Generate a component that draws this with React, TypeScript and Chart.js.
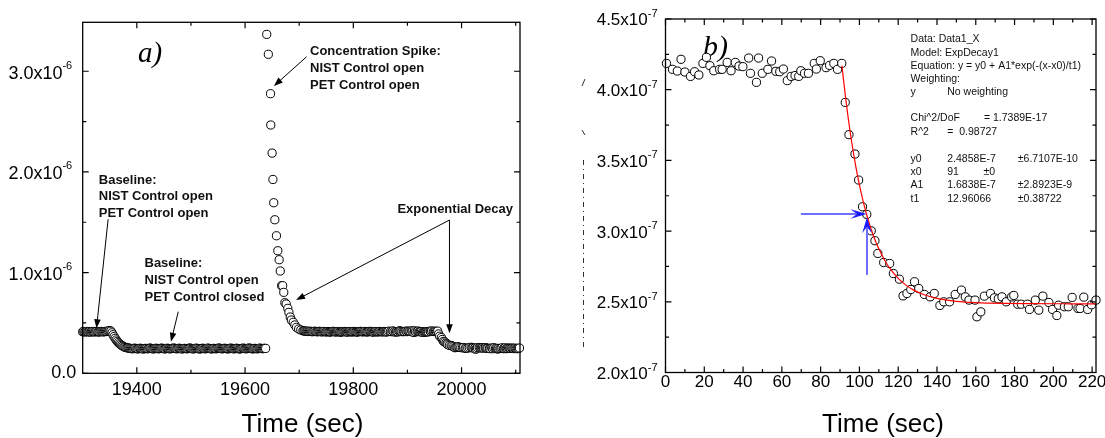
import React, { useEffect, useRef } from "react";
import { Chart, registerables } from "chart.js";
Chart.register(...registerables);

const SANS = '"Liberation Sans", Arial, sans-serif';
const SERIF = '"Liberation Serif", "Times New Roman", serif';

// ---------------- Panel a (values in units of 1e-6) ----------------
const aTimeStep = 2;
const aOpenStart = 19300;
const aBaselineOpen = [0.412, 0.415, 0.41, 0.413, 0.416, 0.411, 0.414, 0.409, 0.412, 0.416, 0.413, 0.41, 0.414, 0.417, 0.412, 0.409, 0.413, 0.416, 0.414, 0.411, 0.413, 0.417, 0.415, 0.418, 0.421, 0.425];
const aDropStart = 19352;
const aDrop = [0.418, 0.402, 0.383, 0.364, 0.347, 0.331, 0.317, 0.305, 0.294, 0.285, 0.277, 0.27, 0.264, 0.259, 0.256, 0.253, 0.251, 0.249];
const aClosedStart = 19388;
const aBaselineClosed = [
  0.248, 0.245, 0.243, 0.247, 0.25, 0.246, 0.244, 0.242, 0.246, 0.249,
  0.247, 0.244, 0.241, 0.245, 0.248, 0.246, 0.243, 0.247, 0.251, 0.248,
  0.245, 0.242, 0.244, 0.247, 0.249, 0.246, 0.243, 0.245, 0.248, 0.25,
  0.247, 0.244, 0.242, 0.246, 0.249, 0.247, 0.244, 0.243, 0.246, 0.248,
  0.251, 0.248, 0.245, 0.243, 0.246, 0.249, 0.247, 0.244, 0.242, 0.245,
  0.248, 0.246, 0.243, 0.245, 0.249, 0.251, 0.248, 0.245, 0.242, 0.244,
  0.247, 0.25, 0.247, 0.244, 0.241, 0.244, 0.247, 0.249, 0.246, 0.243,
  0.245, 0.248, 0.25, 0.247, 0.244, 0.242, 0.245, 0.248, 0.246, 0.243,
  0.246, 0.249, 0.251, 0.248, 0.245, 0.243, 0.246, 0.249, 0.247, 0.244,
  0.242, 0.245, 0.248, 0.25, 0.247, 0.244, 0.243, 0.246, 0.249, 0.247,
  0.244, 0.241, 0.244, 0.247, 0.25, 0.248, 0.245, 0.243, 0.246, 0.249,
  0.251, 0.248, 0.245, 0.242, 0.245, 0.248, 0.246, 0.243, 0.245, 0.248,
  0.25, 0.247, 0.244, 0.246, 0.249, 0.247,
];
const aSpikeTime = [19640, 19643, 19647, 19647.5, 19650, 19651.5, 19653, 19655, 19658, 19660.5, 19663, 19665, 19667.5, 19669.5, 19671.5, 19673.5, 19676, 19679, 19681, 19683.5, 19685.5, 19689, 19692, 19695, 19699, 19703, 19707];
const aSpikeValue = [3.366, 3.168, 2.777, 2.466, 2.187, 1.925, 1.694, 1.525, 1.366, 1.217, 1.128, 1.016, 0.87, 0.87, 0.804, 0.701, 0.688, 0.645, 0.605, 0.559, 0.529, 0.506, 0.48, 0.456, 0.44, 0.43, 0.423];
const aPlateauStart = 19709;
const aPlateau = [
  0.42, 0.418, 0.417, 0.419, 0.415, 0.416, 0.418, 0.414, 0.413, 0.416,
  0.418, 0.415, 0.412, 0.414, 0.417, 0.415, 0.411, 0.413, 0.416, 0.414,
  0.41, 0.413, 0.415, 0.412, 0.409, 0.412, 0.415, 0.417, 0.413, 0.41,
  0.412, 0.415, 0.413, 0.41, 0.408, 0.411, 0.414, 0.416, 0.413, 0.411,
  0.409, 0.412, 0.415, 0.413, 0.41, 0.412, 0.416, 0.414, 0.411, 0.409,
  0.412, 0.414, 0.417, 0.414, 0.411, 0.413, 0.416, 0.413, 0.41, 0.412,
  0.415, 0.417, 0.414, 0.411, 0.409, 0.412, 0.415, 0.413, 0.41, 0.413,
  0.416, 0.414, 0.411, 0.413, 0.415, 0.412, 0.41, 0.413,
];
const aDecayOffset = 19865; // panel b's time zero on panel a's time axis
const aTailStart = 20089;
const aTail = [0.249, 0.246, 0.251, 0.248, 0.245, 0.25, 0.247, 0.244, 0.248, 0.251];

const aXRange = [19300, 20108];
const aYRange = [0, 3.486];
const aXMajor = [19400, 19600, 19800, 20000];
const aXMinor = [19500, 19700, 19900, 20100];
const aYMajor = [0, 1, 2, 3];
const aYMinor = [0.5, 1.5, 2.5];
const aYExp = "-6";

// ---------------- Panel b (values in units of 1e-7) ----------------
const bTime = [
  0.5, 3.6, 6.1, 8, 10, 12.9, 15, 17.2, 19.3, 21.1, 22.9, 24.9, 27.9, 29.2, 31.8, 33.8, 36, 37.9, 39.9, 42.9,
  43.8, 46.9, 48, 49.9, 52.8, 54.7, 56.9, 58.9, 60.8, 62.8, 64.8, 66.8, 68.7, 69.8, 71.7, 73.7, 76.7, 77.8, 79.8, 82.8,
  84.6, 86.8, 88.7, 90.9, 92.7, 94.6, 97.7, 99.6, 101.6, 103.8, 106.1, 108, 109.5, 112.5, 115.6, 117.5, 120.6, 122.5, 124.5, 126.5,
  128.4, 130.6, 133.5, 136.5, 138.6, 141.5, 143.5, 146.5, 149.4, 152.6, 154.6, 156.5, 159.6, 160.6, 162.6, 164.4, 167.6, 169.6, 171.6, 173.5,
  175.7, 178.5, 179.6, 181.6, 183.5, 186.6, 187.7, 190.7, 192.5, 194.6, 197.7, 199.6, 201.8, 202.7, 205.7, 207.7, 209.7, 212.7, 213.8, 215.7,
  217.7, 219.7, 222,
];
const bValue = [
  4.186, 4.144, 4.132, 4.215, 4.125, 4.094, 4.127, 4.104, 4.186, 4.229, 4.17, 4.134, 4.144, 4.144, 4.193, 4.134, 4.193, 4.167, 4.163, 4.224,
  4.116, 4.052, 4.224, 4.116, 4.144, 4.203, 4.13, 4.127, 4.146, 4.064, 4.094, 4.1, 4.094, 4.134, 4.116, 4.116, 4.186, 4.146, 4.205, 4.156,
  4.172, 4.186, 4.144, 4.186, 3.91, 3.682, 3.545, 3.361, 3.172, 3.118, 3.002, 2.932, 2.842, 2.778, 2.771, 2.7, 2.66, 2.542, 2.559, 2.587,
  2.642, 2.594, 2.552, 2.535, 2.559, 2.474, 2.5, 2.5, 2.552, 2.583, 2.535, 2.512, 2.512, 2.394, 2.429, 2.54, 2.559, 2.528, 2.521, 2.535,
  2.5, 2.535, 2.545, 2.483, 2.483, 2.483, 2.446, 2.512, 2.441, 2.54, 2.495, 2.446, 2.403, 2.476, 2.465, 2.465, 2.531, 2.453, 2.453, 2.533,
  2.446, 2.479, 2.512,
];
const bFitTime = [91, 92, 93, 94, 95, 96, 97, 98, 100, 102, 104, 106, 108, 110, 113, 116, 120, 124, 128, 133, 140, 150, 160, 175, 190, 205, 222];
const bFitValue = [4.1696, 4.0446, 3.9288, 3.8216, 3.7225, 3.6307, 3.5456, 3.467, 3.3266, 3.2064, 3.1033, 3.015, 2.9393, 2.8745, 2.7942, 2.7305, 2.6655, 2.6178, 2.5827, 2.5517, 2.5242, 2.5035, 2.494, 2.4884, 2.4866, 2.4861, 2.4858];

const bXRange = [0, 222];
const bYRange = [2.0, 4.5];
const bXMajor = [0, 20, 40, 60, 80, 100, 120, 140, 160, 180, 200, 220];
const bXMinor = [10, 30, 50, 70, 90, 110, 130, 150, 170, 190, 210];
const bYMajor = [2.0, 2.5, 3.0, 3.5, 4.0, 4.5];
const bYMinor = [2.25, 2.75, 3.25, 3.75, 4.25];
const bYExp = "-7";

const bFitRows: { y: number; cells: { x: number; t: string }[] }[] = [
  { y: 4.356, cells: [{ x: 126.4, t: "Data: Data1_X" }] },
  { y: 4.262, cells: [{ x: 126.4, t: "Model: ExpDecay1" }] },
  { y: 4.17, cells: [{ x: 126.4, t: "Equation: y = y0 + A1*exp(-(x-x0)/t1)" }] },
  { y: 4.076, cells: [{ x: 126.4, t: "Weighting:" }] },
  { y: 3.982, cells: [{ x: 126.4, t: "y" }, { x: 145.3, t: "No weighting" }] },
  { y: 3.798, cells: [{ x: 126.4, t: "Chi^2/DoF" }, { x: 164.2, t: "= 1.7389E-17" }] },
  { y: 3.699, cells: [{ x: 126.4, t: "R^2" }, { x: 145.3, t: "=  0.98727" }] },
  { y: 3.512, cells: [{ x: 126.4, t: "y0" }, { x: 145.3, t: "2.4858E-7" }, { x: 181.7, t: "\u00b16.7107E-10" }] },
  { y: 3.418, cells: [{ x: 126.4, t: "x0" }, { x: 145.3, t: "91" }, { x: 164.0, t: "\u00b10" }] },
  { y: 3.324, cells: [{ x: 126.4, t: "A1" }, { x: 145.3, t: "1.6838E-7" }, { x: 181.7, t: "\u00b12.8923E-9" }] },
  { y: 3.229, cells: [{ x: 126.4, t: "t1" }, { x: 145.3, t: "12.96066" }, { x: 181.7, t: "\u00b10.38722" }] },
];

// annotations (positions in data coordinates)
const aNotes = [
  { x: 19329.7, y: 1.92, lines: ["Baseline:", "NIST Control open", "PET Control open"] },
  { x: 19414.2, y: 1.092, lines: ["Baseline:", "NIST Control open", "PET Control closed"] },
  { x: 19720, y: 3.194, lines: ["Concentration Spike:", "NIST Control open", "PET Control open"] },
  { x: 19881.5, y: 1.632, lines: ["Exponential Decay"] },
];
const aArrows = [
  [19347, 1.53, 19325.5, 0.447],
  [19476.6, 0.612, 19463.1, 0.314],
  [19713.7, 3.144, 19653.3, 2.853],
  [19977.7, 1.522, 19694.2, 0.728],
  [19977.7, 1.522, 19977.7, 0.397],
];
const bArrows = [
  [69.8, 3.121, 103.7, 3.121],
  [103.9, 2.69, 103.9, 3.098],
];

type Pt = { x: number; y: number };
const seq = (start: number, step: number, vals: number[]): Pt[] => vals.map((v, i) => ({ x: start + i * step, y: v }));
const zip = (xs: number[], ys: number[]): Pt[] => xs.map((x, i) => ({ x, y: ys[i] }));

function arrowHead(ctx: CanvasRenderingContext2D, x1: number, y1: number, x2: number, y2: number, len: number, half: number, notch: number) {
  const ang = Math.atan2(y2 - y1, x2 - x1);
  ctx.save();
  ctx.translate(x2, y2);
  ctx.rotate(ang);
  ctx.beginPath();
  ctx.moveTo(0, 0);
  ctx.lineTo(-len, half);
  ctx.lineTo(-len * notch, 0);
  ctx.lineTo(-len, -half);
  ctx.closePath();
  ctx.fill();
  ctx.restore();
}

type AxisOpts = {
  xMajor: number[]; xMinor: number[]; yMajor: number[]; yMinor: number[]; yExp: string;
  xFont: string; xLabelY: number; yFont: string; supFont: string; supGap: number; supDy: number; mainDy: number; zeroGap: number;
  titleX: number; titleY: number;
};

function drawAxes(chart: any, o: AxisOpts) {
  const { ctx, chartArea: a, scales } = chart;
  const xs = scales.x, ys = scales.y;
  ctx.save();
  ctx.strokeStyle = "#000";
  ctx.lineWidth = 1.3;
  ctx.strokeRect(a.left, a.top, a.right - a.left, a.bottom - a.top);
  ctx.lineWidth = 1.2;
  ctx.beginPath();
  const xt = (vals: number[], len: number) => {
    for (const v of vals) {
      const px = xs.getPixelForValue(v);
      ctx.moveTo(px, a.bottom); ctx.lineTo(px, a.bottom - len);
      ctx.moveTo(px, a.top); ctx.lineTo(px, a.top + len);
    }
  };
  const yt = (vals: number[], len: number) => {
    for (const v of vals) {
      const py = ys.getPixelForValue(v);
      ctx.moveTo(a.left, py); ctx.lineTo(a.left + len, py);
      ctx.moveTo(a.right, py); ctx.lineTo(a.right - len, py);
    }
  };
  xt(o.xMajor, 6); xt(o.xMinor, 3.5); yt(o.yMajor, 6); yt(o.yMinor, 3.5);
  ctx.stroke();

  ctx.fillStyle = "#000";
  ctx.textBaseline = "middle";
  ctx.font = o.xFont;
  ctx.textAlign = "center";
  for (const v of o.xMajor) ctx.fillText(String(v), xs.getPixelForValue(v), o.xLabelY);
  for (const v of o.yMajor) {
    const py = ys.getPixelForValue(v);
    ctx.textAlign = "right";
    if (v === 0) {
      ctx.font = o.yFont;
      ctx.fillText("0.0", a.left - o.zeroGap, py);
      continue;
    }
    ctx.font = o.supFont;
    const sw = ctx.measureText(o.yExp).width;
    const supRight = a.left - o.supGap;
    ctx.fillText(o.yExp, supRight, py + o.supDy);
    ctx.font = o.yFont;
    ctx.fillText(v.toFixed(1) + "x10", supRight - sw, py + o.mainDy);
  }
  ctx.font = `26px ${SANS}`;
  ctx.textAlign = "center";
  ctx.fillText("Time (sec)", o.titleX, o.titleY);
  ctx.restore();
}

export default function App() {
  const refA = useRef<HTMLCanvasElement>(null);
  const refB = useRef<HTMLCanvasElement>(null);

  useEffect(() => {
    const panelAPoints: Pt[] = [
      ...seq(aOpenStart, aTimeStep, aBaselineOpen),
      ...seq(aDropStart, aTimeStep, aDrop),
      ...seq(aClosedStart, aTimeStep, aBaselineClosed),
      ...zip(aSpikeTime, aSpikeValue),
      ...seq(aPlateauStart, aTimeStep, aPlateau),
      ...bTime.map((t, i) => ({ x: aDecayOffset + t, y: bValue[i] / 10 })),
      ...seq(aTailStart, aTimeStep, aTail),
    ];
    const circle = {
      pointRadius: 4.1,
      pointBorderWidth: 1,
      pointBorderColor: "#000",
      pointBackgroundColor: "#fff",
      showLine: false,
      clip: 6,
    };

    const plugA = {
      id: "panelA",
      beforeDatasetsDraw(chart: any) {
        const { ctx, scales } = chart;
        ctx.save();
        ctx.fillStyle = "#000";
        ctx.font = `italic 29px ${SERIF}`;
        ctx.textAlign = "left";
        ctx.textBaseline = "middle";
        ctx.fillText("a)", scales.x.getPixelForValue(19402), scales.y.getPixelForValue(3.171));
        ctx.restore();
      },
      afterDatasetsDraw(chart: any) {
        const { ctx, scales } = chart;
        const X = (v: number) => scales.x.getPixelForValue(v);
        const Y = (v: number) => scales.y.getPixelForValue(v);
        drawAxes(chart, {
          xMajor: aXMajor, xMinor: aXMinor, yMajor: aYMajor, yMinor: aYMinor, yExp: aYExp,
          xFont: `18px ${SANS}`, xLabelY: 390, yFont: `18px ${SANS}`, supFont: `11px ${SANS}`,
          supGap: 10.5, supDy: -5.5, mainDy: 2.3, zeroGap: 6.5, titleX: 302.5, titleY: 425,
        });
        ctx.save();
        ctx.fillStyle = "#111";
        ctx.font = `bold 13px ${SANS}`;
        ctx.textAlign = "left";
        ctx.textBaseline = "middle";
        for (const n of aNotes) {
          n.lines.forEach((l, i) => ctx.fillText(l, X(n.x), Y(n.y) + i * 16.8));
        }
        ctx.strokeStyle = "#000";
        ctx.fillStyle = "#000";
        ctx.lineWidth = 1;
        for (const [x1, y1, x2, y2] of aArrows) {
          const p1x = X(x1), p1y = Y(y1), p2x = X(x2), p2y = Y(y2);
          const d = Math.hypot(p2x - p1x, p2y - p1y);
          const ex = p2x - ((p2x - p1x) / d) * 6, ey = p2y - ((p2y - p1y) / d) * 6;
          ctx.beginPath(); ctx.moveTo(p1x, p1y); ctx.lineTo(ex, ey); ctx.stroke();
          arrowHead(ctx, p1x, p1y, p2x, p2y, 9, 3.3, 1);
        }
        ctx.restore();
      },
    };

    const plugB = {
      id: "panelB",
      beforeDatasetsDraw(chart: any) {
        const { ctx, scales } = chart;
        ctx.save();
        ctx.fillStyle = "#000";
        ctx.font = `italic 30px ${SERIF}`;
        ctx.textAlign = "left";
        ctx.textBaseline = "middle";
        ctx.fillText("b)", scales.x.getPixelForValue(19.3), scales.y.getPixelForValue(4.295));
        // clipped remnant of an axis title at the far left
        ctx.strokeStyle = "#333";
        ctx.lineWidth = 1;
        ctx.setLineDash([5, 4, 1, 4]);
        ctx.beginPath(); ctx.moveTo(23.5, 160); ctx.lineTo(23.5, 350); ctx.stroke();
        ctx.setLineDash([]);
        ctx.beginPath();
        ctx.moveTo(22, 86); ctx.lineTo(25, 79);
        ctx.moveTo(22, 130); ctx.lineTo(25, 135);
        ctx.stroke();
        ctx.restore();
      },
      afterDatasetsDraw(chart: any) {
        const { ctx, scales } = chart;
        const X = (v: number) => scales.x.getPixelForValue(v);
        const Y = (v: number) => scales.y.getPixelForValue(v);
        drawAxes(chart, {
          xMajor: bXMajor, xMinor: bXMinor, yMajor: bYMajor, yMinor: bYMinor, yExp: bYExp,
          xFont: `17px ${SANS}`, xLabelY: 382, yFont: `17px ${SANS}`, supFont: `11px ${SANS}`,
          supGap: 8, supDy: -5, mainDy: 1.8, zeroGap: 6, titleX: 323, titleY: 425,
        });
        ctx.save();
        ctx.fillStyle = "#111";
        ctx.font = `10.5px ${SANS}`;
        ctx.textAlign = "left";
        ctx.textBaseline = "middle";
        for (const r of bFitRows) for (const c of r.cells) ctx.fillText(c.t, X(c.x), Y(r.y));
        for (const [x1, y1, x2, y2] of bArrows) {
          const p1x = X(x1), p1y = Y(y1), p2x = X(x2), p2y = Y(y2);
          const d = Math.hypot(p2x - p1x, p2y - p1y);
          const ex = p2x - ((p2x - p1x) / d) * 10, ey = p2y - ((p2y - p1y) / d) * 10;
          ctx.strokeStyle = "#6f6fff";
          ctx.lineWidth = 2;
          ctx.beginPath(); ctx.moveTo(p1x, p1y); ctx.lineTo(ex, ey); ctx.stroke();
          ctx.fillStyle = "#1a1aff";
          arrowHead(ctx, p1x, p1y, p2x, p2y, 16, 4.8, 0.6);
        }
        ctx.restore();
      },
    };

    const common = (pad: any) => ({
      responsive: false,
      animation: false as const,
      devicePixelRatio: 1,
      events: [] as any[],
      layout: { padding: pad },
      plugins: { legend: { display: false }, tooltip: { enabled: false } },
    });

    const chartA = new Chart(refA.current!, {
      type: "scatter",
      data: { datasets: [{ data: panelAPoints, ...circle }] as any },
      options: {
        ...common({ left: 82.7, top: 22.3, right: 40, bottom: 64.7 }),
        scales: {
          x: { type: "linear", min: aXRange[0], max: aXRange[1], display: false },
          y: { type: "linear", min: aYRange[0], max: aYRange[1], display: false },
        },
      } as any,
      plugins: [plugA],
    });

    const chartB = new Chart(refB.current!, {
      type: "scatter",
      data: {
        datasets: [
          {
            data: zip(bFitTime, bFitValue),
            showLine: true,
            borderColor: "#ff0000",
            borderWidth: 1.2,
            pointRadius: 0,
            cubicInterpolationMode: "monotone",
            order: 0,
          },
          { data: zip(bTime, bValue), ...circle, order: 1 },
        ] as any,
      },
      options: {
        ...common({ left: 105.5, top: 19, right: 9, bottom: 65.5 }),
        scales: {
          x: { type: "linear", min: bXRange[0], max: bXRange[1], display: false },
          y: { type: "linear", min: bYRange[0], max: bYRange[1], display: false },
        },
      } as any,
      plugins: [plugB],
    });

    return () => {
      chartA.destroy();
      chartB.destroy();
    };
  }, []);

  return (
    <div style={{ position: "absolute", left: 0, top: 0, width: 1105, height: 438, background: "#fff" }}>
      <canvas ref={refA} width={560} height={438} style={{ position: "absolute", left: 0, top: 0 }} />
      <canvas ref={refB} width={545} height={438} style={{ position: "absolute", left: 560, top: 0 }} />
    </div>
  );
}
